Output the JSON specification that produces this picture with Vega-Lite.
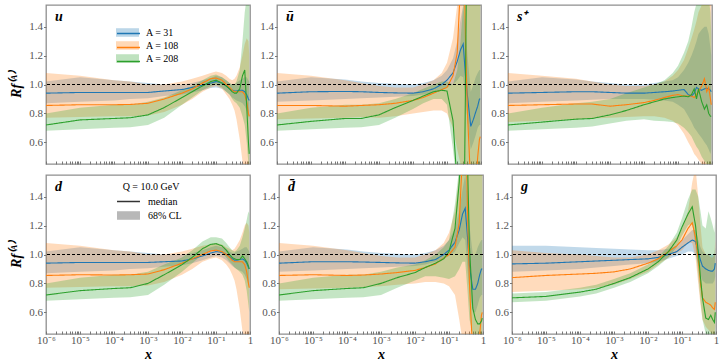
{
"$schema": "https://vega.github.io/schema/vega-lite/v6.json",
"background": "white",
"padding": {"left": 8, "top": 4, "right": 4, "bottom": 4},
"data": {"values": [
{"p":"u","A":"31","x":0.000001,"m":0.94,"l":0.87,"h":1.02},
{"p":"u","A":"31","x":0.00001,"m":0.945,"l":0.88,"h":1.05},
{"p":"u","A":"31","x":0.0001,"m":0.945,"l":0.89,"h":1.03},
{"p":"u","A":"31","x":0.0003,"m":0.945,"l":0.9,"h":1.02},
{"p":"u","A":"31","x":0.001,"m":0.945,"l":0.905,"h":1.01},
{"p":"u","A":"31","x":0.003,"m":0.955,"l":0.92,"h":1.0},
{"p":"u","A":"31","x":0.01,"m":0.965,"l":0.93,"h":1.0},
{"p":"u","A":"31","x":0.02,"m":0.98,"l":0.945,"h":1.01},
{"p":"u","A":"31","x":0.04,"m":0.995,"l":0.96,"h":1.03},
{"p":"u","A":"31","x":0.07,"m":1.01,"l":0.975,"h":1.045},
{"p":"u","A":"31","x":0.1,"m":1.02,"l":0.98,"h":1.06},
{"p":"u","A":"31","x":0.15,"m":1.01,"l":0.97,"h":1.05},
{"p":"u","A":"31","x":0.2,"m":0.99,"l":0.95,"h":1.03},
{"p":"u","A":"31","x":0.25,"m":0.97,"l":0.93,"h":1.01},
{"p":"u","A":"31","x":0.3,"m":0.96,"l":0.91,"h":1.0},
{"p":"u","A":"31","x":0.35,"m":0.955,"l":0.9,"h":1.0},
{"p":"u","A":"31","x":0.4,"m":0.955,"l":0.89,"h":1.01},
{"p":"u","A":"31","x":0.5,"m":0.96,"l":0.88,"h":1.03},
{"p":"u","A":"31","x":0.6,"m":0.96,"l":0.87,"h":1.04},
{"p":"u","A":"31","x":0.7,"m":0.95,"l":0.85,"h":1.05},
{"p":"u","A":"31","x":0.8,"m":0.93,"l":0.82,"h":1.05},
{"p":"u","A":"31","x":0.9,"m":0.9,"l":0.78,"h":1.03},
{"p":"u","A":"31","x":0.95,"m":0.89,"l":0.76,"h":1.02},
{"p":"u","A":"108","x":0.000001,"m":0.855,"l":0.77,"h":1.08},
{"p":"u","A":"108","x":0.00001,"m":0.86,"l":0.775,"h":1.06},
{"p":"u","A":"108","x":0.0001,"m":0.86,"l":0.78,"h":1.03},
{"p":"u","A":"108","x":0.0003,"m":0.862,"l":0.78,"h":1.02},
{"p":"u","A":"108","x":0.001,"m":0.87,"l":0.785,"h":1.0},
{"p":"u","A":"108","x":0.003,"m":0.9,"l":0.81,"h":1.0},
{"p":"u","A":"108","x":0.01,"m":0.94,"l":0.86,"h":1.02},
{"p":"u","A":"108","x":0.02,"m":0.97,"l":0.9,"h":1.04},
{"p":"u","A":"108","x":0.04,"m":1.01,"l":0.95,"h":1.06},
{"p":"u","A":"108","x":0.07,"m":1.04,"l":0.98,"h":1.08},
{"p":"u","A":"108","x":0.1,"m":1.045,"l":0.99,"h":1.09},
{"p":"u","A":"108","x":0.15,"m":1.03,"l":0.97,"h":1.08},
{"p":"u","A":"108","x":0.2,"m":1.0,"l":0.93,"h":1.06},
{"p":"u","A":"108","x":0.25,"m":0.98,"l":0.9,"h":1.04},
{"p":"u","A":"108","x":0.3,"m":0.96,"l":0.86,"h":1.03},
{"p":"u","A":"108","x":0.35,"m":0.95,"l":0.82,"h":1.04},
{"p":"u","A":"108","x":0.4,"m":0.95,"l":0.76,"h":1.06},
{"p":"u","A":"108","x":0.5,"m":0.95,"l":0.62,"h":1.12},
{"p":"u","A":"108","x":0.6,"m":0.95,"l":0.47,"h":1.2},
{"p":"u","A":"108","x":0.7,"m":0.93,"l":0.4,"h":1.28},
{"p":"u","A":"108","x":0.8,"m":0.88,"l":0.4,"h":1.32},
{"p":"u","A":"108","x":0.9,"m":0.8,"l":0.4,"h":1.3},
{"p":"u","A":"108","x":0.95,"m":0.78,"l":0.45,"h":1.2},
{"p":"u","A":"208","x":0.000001,"m":0.72,"l":0.68,"h":0.8},
{"p":"u","A":"208","x":0.00001,"m":0.755,"l":0.69,"h":0.84},
{"p":"u","A":"208","x":0.0001,"m":0.765,"l":0.7,"h":0.86},
{"p":"u","A":"208","x":0.0003,"m":0.77,"l":0.705,"h":0.86},
{"p":"u","A":"208","x":0.001,"m":0.79,"l":0.72,"h":0.88},
{"p":"u","A":"208","x":0.003,"m":0.84,"l":0.77,"h":0.91},
{"p":"u","A":"208","x":0.01,"m":0.91,"l":0.86,"h":0.96},
{"p":"u","A":"208","x":0.02,"m":0.95,"l":0.91,"h":0.99},
{"p":"u","A":"208","x":0.04,"m":0.99,"l":0.96,"h":1.03},
{"p":"u","A":"208","x":0.07,"m":1.02,"l":0.99,"h":1.06},
{"p":"u","A":"208","x":0.1,"m":1.03,"l":1.0,"h":1.07},
{"p":"u","A":"208","x":0.15,"m":1.01,"l":0.98,"h":1.05},
{"p":"u","A":"208","x":0.2,"m":0.99,"l":0.95,"h":1.03},
{"p":"u","A":"208","x":0.25,"m":0.97,"l":0.93,"h":1.01},
{"p":"u","A":"208","x":0.3,"m":0.95,"l":0.9,"h":1.0},
{"p":"u","A":"208","x":0.35,"m":0.94,"l":0.88,"h":1.0},
{"p":"u","A":"208","x":0.4,"m":0.94,"l":0.87,"h":1.02},
{"p":"u","A":"208","x":0.5,"m":0.97,"l":0.84,"h":1.1},
{"p":"u","A":"208","x":0.6,"m":1.06,"l":0.78,"h":1.3},
{"p":"u","A":"208","x":0.7,"m":1.1,"l":0.72,"h":1.5},
{"p":"u","A":"208","x":0.8,"m":0.85,"l":0.6,"h":1.6},
{"p":"u","A":"208","x":0.9,"m":0.6,"l":0.45,"h":1.6},
{"p":"u","A":"208","x":0.95,"m":0.52,"l":0.4,"h":1.6},
{"p":"d","A":"31","x":0.000001,"m":0.94,"l":0.87,"h":1.02},
{"p":"d","A":"31","x":0.00001,"m":0.945,"l":0.88,"h":1.05},
{"p":"d","A":"31","x":0.0001,"m":0.945,"l":0.89,"h":1.03},
{"p":"d","A":"31","x":0.0003,"m":0.945,"l":0.9,"h":1.02},
{"p":"d","A":"31","x":0.001,"m":0.945,"l":0.905,"h":1.01},
{"p":"d","A":"31","x":0.003,"m":0.95,"l":0.915,"h":1.0},
{"p":"d","A":"31","x":0.01,"m":0.955,"l":0.925,"h":1.0},
{"p":"d","A":"31","x":0.02,"m":0.97,"l":0.94,"h":1.01},
{"p":"d","A":"31","x":0.04,"m":0.99,"l":0.96,"h":1.03},
{"p":"d","A":"31","x":0.07,"m":1.01,"l":0.98,"h":1.05},
{"p":"d","A":"31","x":0.1,"m":1.02,"l":0.99,"h":1.06},
{"p":"d","A":"31","x":0.15,"m":1.015,"l":0.98,"h":1.05},
{"p":"d","A":"31","x":0.2,"m":1.0,"l":0.96,"h":1.04},
{"p":"d","A":"31","x":0.25,"m":0.985,"l":0.94,"h":1.02},
{"p":"d","A":"31","x":0.3,"m":0.97,"l":0.92,"h":1.01},
{"p":"d","A":"31","x":0.35,"m":0.96,"l":0.91,"h":1.01},
{"p":"d","A":"31","x":0.4,"m":0.96,"l":0.9,"h":1.02},
{"p":"d","A":"31","x":0.5,"m":0.965,"l":0.89,"h":1.03},
{"p":"d","A":"31","x":0.6,"m":0.97,"l":0.88,"h":1.04},
{"p":"d","A":"31","x":0.7,"m":0.96,"l":0.86,"h":1.05},
{"p":"d","A":"31","x":0.8,"m":0.94,"l":0.83,"h":1.05},
{"p":"d","A":"31","x":0.9,"m":0.91,"l":0.79,"h":1.03},
{"p":"d","A":"31","x":0.95,"m":0.9,"l":0.77,"h":1.02},
{"p":"d","A":"108","x":0.000001,"m":0.855,"l":0.77,"h":1.08},
{"p":"d","A":"108","x":0.00001,"m":0.86,"l":0.775,"h":1.06},
{"p":"d","A":"108","x":0.0001,"m":0.858,"l":0.78,"h":1.03},
{"p":"d","A":"108","x":0.0003,"m":0.86,"l":0.78,"h":1.02},
{"p":"d","A":"108","x":0.001,"m":0.865,"l":0.785,"h":1.0},
{"p":"d","A":"108","x":0.003,"m":0.895,"l":0.81,"h":1.0},
{"p":"d","A":"108","x":0.01,"m":0.94,"l":0.86,"h":1.02},
{"p":"d","A":"108","x":0.02,"m":0.97,"l":0.9,"h":1.04},
{"p":"d","A":"108","x":0.04,"m":1.0,"l":0.95,"h":1.06},
{"p":"d","A":"108","x":0.07,"m":1.025,"l":0.97,"h":1.07},
{"p":"d","A":"108","x":0.1,"m":1.03,"l":0.98,"h":1.08},
{"p":"d","A":"108","x":0.15,"m":1.02,"l":0.96,"h":1.07},
{"p":"d","A":"108","x":0.2,"m":1.0,"l":0.93,"h":1.05},
{"p":"d","A":"108","x":0.25,"m":0.98,"l":0.9,"h":1.04},
{"p":"d","A":"108","x":0.3,"m":0.96,"l":0.86,"h":1.03},
{"p":"d","A":"108","x":0.35,"m":0.95,"l":0.82,"h":1.04},
{"p":"d","A":"108","x":0.4,"m":0.95,"l":0.76,"h":1.06},
{"p":"d","A":"108","x":0.5,"m":0.95,"l":0.62,"h":1.1},
{"p":"d","A":"108","x":0.6,"m":0.95,"l":0.47,"h":1.15},
{"p":"d","A":"108","x":0.7,"m":0.93,"l":0.42,"h":1.2},
{"p":"d","A":"108","x":0.8,"m":0.88,"l":0.42,"h":1.22},
{"p":"d","A":"108","x":0.9,"m":0.8,"l":0.42,"h":1.2},
{"p":"d","A":"108","x":0.95,"m":0.77,"l":0.45,"h":1.15},
{"p":"d","A":"208","x":0.000001,"m":0.72,"l":0.68,"h":0.8},
{"p":"d","A":"208","x":0.00001,"m":0.75,"l":0.69,"h":0.84},
{"p":"d","A":"208","x":0.0001,"m":0.765,"l":0.7,"h":0.86},
{"p":"d","A":"208","x":0.0003,"m":0.77,"l":0.705,"h":0.86},
{"p":"d","A":"208","x":0.001,"m":0.8,"l":0.72,"h":0.88},
{"p":"d","A":"208","x":0.003,"m":0.86,"l":0.79,"h":0.93},
{"p":"d","A":"208","x":0.01,"m":0.93,"l":0.88,"h":0.98},
{"p":"d","A":"208","x":0.02,"m":0.98,"l":0.94,"h":1.03},
{"p":"d","A":"208","x":0.04,"m":1.04,"l":1.0,"h":1.09},
{"p":"d","A":"208","x":0.07,"m":1.07,"l":1.03,"h":1.12},
{"p":"d","A":"208","x":0.1,"m":1.075,"l":1.03,"h":1.12},
{"p":"d","A":"208","x":0.15,"m":1.06,"l":1.01,"h":1.11},
{"p":"d","A":"208","x":0.2,"m":1.03,"l":0.98,"h":1.08},
{"p":"d","A":"208","x":0.25,"m":1.0,"l":0.95,"h":1.05},
{"p":"d","A":"208","x":0.3,"m":0.98,"l":0.93,"h":1.03},
{"p":"d","A":"208","x":0.35,"m":0.97,"l":0.91,"h":1.02},
{"p":"d","A":"208","x":0.4,"m":0.965,"l":0.9,"h":1.03},
{"p":"d","A":"208","x":0.5,"m":0.965,"l":0.88,"h":1.06},
{"p":"d","A":"208","x":0.6,"m":0.99,"l":0.86,"h":1.12},
{"p":"d","A":"208","x":0.7,"m":0.97,"l":0.82,"h":1.18},
{"p":"d","A":"208","x":0.8,"m":0.95,"l":0.75,"h":1.24},
{"p":"d","A":"208","x":0.9,"m":0.92,"l":0.65,"h":1.3},
{"p":"d","A":"208","x":0.95,"m":0.9,"l":0.6,"h":1.28},
{"p":"ub","A":"31","x":0.000001,"m":0.94,"l":0.88,"h":1.02},
{"p":"ub","A":"31","x":0.00001,"m":0.95,"l":0.89,"h":1.05},
{"p":"ub","A":"31","x":0.0001,"m":0.952,"l":0.9,"h":1.035},
{"p":"ub","A":"31","x":0.0003,"m":0.95,"l":0.905,"h":1.02},
{"p":"ub","A":"31","x":0.001,"m":0.945,"l":0.91,"h":1.01},
{"p":"ub","A":"31","x":0.003,"m":0.942,"l":0.915,"h":1.005},
{"p":"ub","A":"31","x":0.01,"m":0.94,"l":0.92,"h":1.0},
{"p":"ub","A":"31","x":0.02,"m":0.95,"l":0.93,"h":1.01},
{"p":"ub","A":"31","x":0.04,"m":0.97,"l":0.94,"h":1.03},
{"p":"ub","A":"31","x":0.07,"m":1.0,"l":0.96,"h":1.06},
{"p":"ub","A":"31","x":0.1,"m":1.03,"l":0.98,"h":1.1},
{"p":"ub","A":"31","x":0.15,"m":1.08,"l":1.0,"h":1.18},
{"p":"ub","A":"31","x":0.2,"m":1.16,"l":1.03,"h":1.3},
{"p":"ub","A":"31","x":0.25,"m":1.24,"l":1.06,"h":1.45},
{"p":"ub","A":"31","x":0.3,"m":1.28,"l":1.05,"h":1.55},
{"p":"ub","A":"31","x":0.35,"m":1.06,"l":0.9,"h":1.4},
{"p":"ub","A":"31","x":0.4,"m":0.92,"l":0.75,"h":1.2},
{"p":"ub","A":"31","x":0.5,"m":0.71,"l":0.55,"h":0.95},
{"p":"ub","A":"31","x":0.6,"m":0.76,"l":0.6,"h":1.0},
{"p":"ub","A":"31","x":0.7,"m":0.81,"l":0.65,"h":1.05},
{"p":"ub","A":"31","x":0.8,"m":0.85,"l":0.7,"h":1.08},
{"p":"ub","A":"31","x":0.9,"m":0.9,"l":0.72,"h":1.1},
{"p":"ub","A":"31","x":0.95,"m":0.9,"l":0.72,"h":1.1},
{"p":"ub","A":"108","x":0.000001,"m":0.855,"l":0.76,"h":1.08},
{"p":"ub","A":"108","x":0.00001,"m":0.855,"l":0.765,"h":1.06},
{"p":"ub","A":"108","x":0.0001,"m":0.85,"l":0.77,"h":1.03},
{"p":"ub","A":"108","x":0.0003,"m":0.855,"l":0.775,"h":1.01},
{"p":"ub","A":"108","x":0.001,"m":0.86,"l":0.77,"h":0.99},
{"p":"ub","A":"108","x":0.003,"m":0.87,"l":0.78,"h":0.98},
{"p":"ub","A":"108","x":0.01,"m":0.89,"l":0.8,"h":0.98},
{"p":"ub","A":"108","x":0.02,"m":0.91,"l":0.81,"h":1.0},
{"p":"ub","A":"108","x":0.04,"m":0.94,"l":0.82,"h":1.03},
{"p":"ub","A":"108","x":0.07,"m":0.965,"l":0.82,"h":1.08},
{"p":"ub","A":"108","x":0.1,"m":0.98,"l":0.8,"h":1.15},
{"p":"ub","A":"108","x":0.15,"m":1.06,"l":0.7,"h":1.32},
{"p":"ub","A":"108","x":0.2,"m":1.22,"l":0.55,"h":1.55},
{"p":"ub","A":"108","x":0.25,"m":1.7,"l":0.45,"h":1.7},
{"p":"ub","A":"108","x":0.3,"m":2.2,"l":0.35,"h":1.8},
{"p":"ub","A":"108","x":0.35,"m":1.3,"l":0.3,"h":1.8},
{"p":"ub","A":"108","x":0.4,"m":0.8,"l":0.3,"h":1.8},
{"p":"ub","A":"108","x":0.5,"m":0.3,"l":0.3,"h":1.8},
{"p":"ub","A":"108","x":0.6,"m":0.2,"l":0.3,"h":1.8},
{"p":"ub","A":"108","x":0.7,"m":0.3,"l":0.3,"h":1.8},
{"p":"ub","A":"108","x":0.8,"m":0.5,"l":0.3,"h":1.8},
{"p":"ub","A":"108","x":0.9,"m":0.62,"l":0.3,"h":1.8},
{"p":"ub","A":"108","x":0.95,"m":0.64,"l":0.3,"h":1.8},
{"p":"ub","A":"208","x":0.000001,"m":0.72,"l":0.68,"h":0.8},
{"p":"ub","A":"208","x":0.00001,"m":0.745,"l":0.69,"h":0.84},
{"p":"ub","A":"208","x":0.0001,"m":0.765,"l":0.7,"h":0.86},
{"p":"ub","A":"208","x":0.0003,"m":0.765,"l":0.705,"h":0.86},
{"p":"ub","A":"208","x":0.001,"m":0.79,"l":0.72,"h":0.87},
{"p":"ub","A":"208","x":0.003,"m":0.84,"l":0.77,"h":0.9},
{"p":"ub","A":"208","x":0.01,"m":0.89,"l":0.83,"h":0.94},
{"p":"ub","A":"208","x":0.02,"m":0.92,"l":0.87,"h":0.97},
{"p":"ub","A":"208","x":0.04,"m":0.95,"l":0.9,"h":1.0},
{"p":"ub","A":"208","x":0.07,"m":0.96,"l":0.9,"h":1.02},
{"p":"ub","A":"208","x":0.1,"m":0.955,"l":0.86,"h":1.02},
{"p":"ub","A":"208","x":0.15,"m":0.75,"l":0.55,"h":1.0},
{"p":"ub","A":"208","x":0.2,"m":0.3,"l":0.3,"h":1.1},
{"p":"ub","A":"208","x":0.25,"m":-0.2,"l":0.3,"h":1.3},
{"p":"ub","A":"208","x":0.3,"m":-0.5,"l":0.3,"h":1.55},
{"p":"ub","A":"208","x":0.35,"m":1.0,"l":0.3,"h":1.7},
{"p":"ub","A":"208","x":0.4,"m":2.5,"l":0.3,"h":1.8},
{"p":"ub","A":"208","x":0.5,"m":2.5,"l":0.3,"h":1.8},
{"p":"ub","A":"208","x":0.6,"m":2.5,"l":0.3,"h":1.8},
{"p":"ub","A":"208","x":0.7,"m":2.5,"l":0.3,"h":1.8},
{"p":"ub","A":"208","x":0.8,"m":2.5,"l":0.3,"h":1.8},
{"p":"ub","A":"208","x":0.9,"m":2.5,"l":0.3,"h":1.8},
{"p":"ub","A":"208","x":0.95,"m":2.5,"l":0.3,"h":1.8},
{"p":"db","A":"31","x":0.000001,"m":0.94,"l":0.88,"h":1.02},
{"p":"db","A":"31","x":0.00001,"m":0.95,"l":0.89,"h":1.05},
{"p":"db","A":"31","x":0.0001,"m":0.95,"l":0.9,"h":1.035},
{"p":"db","A":"31","x":0.0003,"m":0.948,"l":0.905,"h":1.02},
{"p":"db","A":"31","x":0.001,"m":0.945,"l":0.91,"h":1.01},
{"p":"db","A":"31","x":0.003,"m":0.942,"l":0.915,"h":1.005},
{"p":"db","A":"31","x":0.01,"m":0.94,"l":0.92,"h":1.0},
{"p":"db","A":"31","x":0.02,"m":0.95,"l":0.93,"h":1.01},
{"p":"db","A":"31","x":0.04,"m":0.965,"l":0.95,"h":1.03},
{"p":"db","A":"31","x":0.07,"m":1.0,"l":0.97,"h":1.06},
{"p":"db","A":"31","x":0.1,"m":1.03,"l":0.99,"h":1.1},
{"p":"db","A":"31","x":0.15,"m":1.085,"l":1.02,"h":1.18},
{"p":"db","A":"31","x":0.2,"m":1.17,"l":1.08,"h":1.3},
{"p":"db","A":"31","x":0.25,"m":1.28,"l":1.12,"h":1.45},
{"p":"db","A":"31","x":0.3,"m":1.32,"l":1.1,"h":1.55},
{"p":"db","A":"31","x":0.35,"m":1.12,"l":0.9,"h":1.4},
{"p":"db","A":"31","x":0.4,"m":0.92,"l":0.75,"h":1.2},
{"p":"db","A":"31","x":0.5,"m":0.76,"l":0.6,"h":1.0},
{"p":"db","A":"31","x":0.6,"m":0.76,"l":0.6,"h":1.0},
{"p":"db","A":"31","x":0.7,"m":0.8,"l":0.65,"h":1.05},
{"p":"db","A":"31","x":0.8,"m":0.86,"l":0.7,"h":1.08},
{"p":"db","A":"31","x":0.9,"m":0.9,"l":0.72,"h":1.1},
{"p":"db","A":"31","x":0.95,"m":0.9,"l":0.72,"h":1.1},
{"p":"db","A":"108","x":0.000001,"m":0.855,"l":0.76,"h":1.08},
{"p":"db","A":"108","x":0.00001,"m":0.86,"l":0.765,"h":1.06},
{"p":"db","A":"108","x":0.0001,"m":0.855,"l":0.77,"h":1.03},
{"p":"db","A":"108","x":0.0003,"m":0.858,"l":0.775,"h":1.01},
{"p":"db","A":"108","x":0.001,"m":0.865,"l":0.78,"h":0.99},
{"p":"db","A":"108","x":0.003,"m":0.875,"l":0.79,"h":0.98},
{"p":"db","A":"108","x":0.01,"m":0.89,"l":0.8,"h":0.98},
{"p":"db","A":"108","x":0.02,"m":0.91,"l":0.81,"h":1.0},
{"p":"db","A":"108","x":0.04,"m":0.935,"l":0.81,"h":1.03},
{"p":"db","A":"108","x":0.07,"m":0.975,"l":0.8,"h":1.08},
{"p":"db","A":"108","x":0.1,"m":1.0,"l":0.78,"h":1.15},
{"p":"db","A":"108","x":0.15,"m":1.05,"l":0.72,"h":1.3},
{"p":"db","A":"108","x":0.2,"m":1.22,"l":0.55,"h":1.55},
{"p":"db","A":"108","x":0.25,"m":1.7,"l":0.4,"h":1.7},
{"p":"db","A":"108","x":0.3,"m":2.2,"l":0.35,"h":1.8},
{"p":"db","A":"108","x":0.35,"m":1.3,"l":0.3,"h":1.8},
{"p":"db","A":"108","x":0.4,"m":0.8,"l":0.3,"h":1.8},
{"p":"db","A":"108","x":0.5,"m":0.3,"l":0.3,"h":1.8},
{"p":"db","A":"108","x":0.6,"m":0.2,"l":0.3,"h":1.8},
{"p":"db","A":"108","x":0.7,"m":0.3,"l":0.3,"h":1.8},
{"p":"db","A":"108","x":0.8,"m":0.45,"l":0.3,"h":1.8},
{"p":"db","A":"108","x":0.9,"m":0.58,"l":0.3,"h":1.8},
{"p":"db","A":"108","x":0.95,"m":0.6,"l":0.3,"h":1.8},
{"p":"db","A":"208","x":0.000001,"m":0.72,"l":0.68,"h":0.8},
{"p":"db","A":"208","x":0.00001,"m":0.75,"l":0.69,"h":0.84},
{"p":"db","A":"208","x":0.0001,"m":0.765,"l":0.7,"h":0.86},
{"p":"db","A":"208","x":0.0003,"m":0.77,"l":0.705,"h":0.86},
{"p":"db","A":"208","x":0.001,"m":0.8,"l":0.72,"h":0.88},
{"p":"db","A":"208","x":0.003,"m":0.84,"l":0.77,"h":0.91},
{"p":"db","A":"208","x":0.01,"m":0.875,"l":0.82,"h":0.93},
{"p":"db","A":"208","x":0.02,"m":0.91,"l":0.85,"h":0.96},
{"p":"db","A":"208","x":0.04,"m":0.94,"l":0.85,"h":1.0},
{"p":"db","A":"208","x":0.07,"m":0.97,"l":0.84,"h":1.05},
{"p":"db","A":"208","x":0.1,"m":1.02,"l":0.83,"h":1.1},
{"p":"db","A":"208","x":0.15,"m":1.18,"l":0.85,"h":1.35},
{"p":"db","A":"208","x":0.2,"m":1.5,"l":0.9,"h":1.6},
{"p":"db","A":"208","x":0.25,"m":2.0,"l":0.95,"h":1.8},
{"p":"db","A":"208","x":0.3,"m":2.4,"l":0.95,"h":1.8},
{"p":"db","A":"208","x":0.35,"m":1.65,"l":0.75,"h":1.8},
{"p":"db","A":"208","x":0.4,"m":1.05,"l":0.55,"h":1.8},
{"p":"db","A":"208","x":0.5,"m":0.63,"l":0.45,"h":1.8},
{"p":"db","A":"208","x":0.6,"m":0.55,"l":0.4,"h":1.8},
{"p":"db","A":"208","x":0.7,"m":0.52,"l":0.4,"h":1.8},
{"p":"db","A":"208","x":0.8,"m":0.52,"l":0.4,"h":1.8},
{"p":"db","A":"208","x":0.9,"m":0.54,"l":0.4,"h":1.8},
{"p":"db","A":"208","x":0.95,"m":0.56,"l":0.4,"h":1.8},
{"p":"s","A":"31","x":0.000001,"m":0.94,"l":0.87,"h":1.02},
{"p":"s","A":"31","x":0.00001,"m":0.945,"l":0.88,"h":1.05},
{"p":"s","A":"31","x":0.0001,"m":0.95,"l":0.89,"h":1.035},
{"p":"s","A":"31","x":0.0003,"m":0.95,"l":0.895,"h":1.02},
{"p":"s","A":"31","x":0.001,"m":0.945,"l":0.9,"h":1.01},
{"p":"s","A":"31","x":0.003,"m":0.94,"l":0.9,"h":1.0},
{"p":"s","A":"31","x":0.01,"m":0.94,"l":0.9,"h":1.0},
{"p":"s","A":"31","x":0.02,"m":0.945,"l":0.895,"h":1.01},
{"p":"s","A":"31","x":0.04,"m":0.95,"l":0.89,"h":1.02},
{"p":"s","A":"31","x":0.07,"m":0.955,"l":0.88,"h":1.03},
{"p":"s","A":"31","x":0.1,"m":0.96,"l":0.86,"h":1.05},
{"p":"s","A":"31","x":0.15,"m":0.965,"l":0.83,"h":1.1},
{"p":"s","A":"31","x":0.2,"m":0.93,"l":0.78,"h":1.15},
{"p":"s","A":"31","x":0.25,"m":0.92,"l":0.74,"h":1.2},
{"p":"s","A":"31","x":0.3,"m":0.94,"l":0.7,"h":1.25},
{"p":"s","A":"31","x":0.35,"m":0.98,"l":0.68,"h":1.3},
{"p":"s","A":"31","x":0.4,"m":0.97,"l":0.66,"h":1.35},
{"p":"s","A":"31","x":0.5,"m":0.96,"l":0.63,"h":1.38},
{"p":"s","A":"31","x":0.6,"m":0.97,"l":0.6,"h":1.4},
{"p":"s","A":"31","x":0.7,"m":0.975,"l":0.58,"h":1.4},
{"p":"s","A":"31","x":0.8,"m":0.97,"l":0.55,"h":1.35},
{"p":"s","A":"31","x":0.9,"m":0.96,"l":0.52,"h":1.25},
{"p":"s","A":"31","x":0.95,"m":0.95,"l":0.55,"h":1.2},
{"p":"s","A":"108","x":0.000001,"m":0.855,"l":0.74,"h":1.08},
{"p":"s","A":"108","x":0.00001,"m":0.86,"l":0.75,"h":1.06},
{"p":"s","A":"108","x":0.0001,"m":0.865,"l":0.76,"h":1.04},
{"p":"s","A":"108","x":0.0003,"m":0.865,"l":0.765,"h":1.02},
{"p":"s","A":"108","x":0.001,"m":0.85,"l":0.77,"h":1.0},
{"p":"s","A":"108","x":0.003,"m":0.86,"l":0.775,"h":0.99},
{"p":"s","A":"108","x":0.01,"m":0.875,"l":0.78,"h":0.99},
{"p":"s","A":"108","x":0.02,"m":0.89,"l":0.78,"h":1.0},
{"p":"s","A":"108","x":0.04,"m":0.91,"l":0.77,"h":1.02},
{"p":"s","A":"108","x":0.07,"m":0.925,"l":0.75,"h":1.06},
{"p":"s","A":"108","x":0.1,"m":0.93,"l":0.72,"h":1.1},
{"p":"s","A":"108","x":0.15,"m":0.92,"l":0.66,"h":1.17},
{"p":"s","A":"108","x":0.2,"m":0.92,"l":0.6,"h":1.25},
{"p":"s","A":"108","x":0.25,"m":0.92,"l":0.56,"h":1.32},
{"p":"s","A":"108","x":0.3,"m":0.91,"l":0.52,"h":1.38},
{"p":"s","A":"108","x":0.35,"m":0.93,"l":0.5,"h":1.44},
{"p":"s","A":"108","x":0.4,"m":0.95,"l":0.48,"h":1.5},
{"p":"s","A":"108","x":0.5,"m":0.99,"l":0.45,"h":1.55},
{"p":"s","A":"108","x":0.6,"m":1.04,"l":0.42,"h":1.6},
{"p":"s","A":"108","x":0.7,"m":0.95,"l":0.4,"h":1.6},
{"p":"s","A":"108","x":0.8,"m":0.98,"l":0.4,"h":1.6},
{"p":"s","A":"108","x":0.9,"m":0.9,"l":0.4,"h":1.6},
{"p":"s","A":"108","x":0.95,"m":0.86,"l":0.4,"h":1.6},
{"p":"s","A":"208","x":0.000001,"m":0.72,"l":0.68,"h":0.8},
{"p":"s","A":"208","x":0.00001,"m":0.74,"l":0.69,"h":0.84},
{"p":"s","A":"208","x":0.0001,"m":0.76,"l":0.7,"h":0.87},
{"p":"s","A":"208","x":0.0003,"m":0.765,"l":0.71,"h":0.88},
{"p":"s","A":"208","x":0.001,"m":0.79,"l":0.73,"h":0.9},
{"p":"s","A":"208","x":0.003,"m":0.82,"l":0.75,"h":0.94},
{"p":"s","A":"208","x":0.01,"m":0.86,"l":0.76,"h":0.98},
{"p":"s","A":"208","x":0.02,"m":0.88,"l":0.75,"h":1.0},
{"p":"s","A":"208","x":0.04,"m":0.9,"l":0.745,"h":1.03},
{"p":"s","A":"208","x":0.07,"m":0.91,"l":0.74,"h":1.08},
{"p":"s","A":"208","x":0.1,"m":0.915,"l":0.73,"h":1.13},
{"p":"s","A":"208","x":0.15,"m":0.92,"l":0.7,"h":1.22},
{"p":"s","A":"208","x":0.2,"m":0.915,"l":0.67,"h":1.3},
{"p":"s","A":"208","x":0.25,"m":0.93,"l":0.64,"h":1.4},
{"p":"s","A":"208","x":0.3,"m":0.97,"l":0.6,"h":1.5},
{"p":"s","A":"208","x":0.35,"m":0.9,"l":0.57,"h":1.56},
{"p":"s","A":"208","x":0.4,"m":0.97,"l":0.55,"h":1.6},
{"p":"s","A":"208","x":0.5,"m":0.88,"l":0.5,"h":1.6},
{"p":"s","A":"208","x":0.6,"m":0.83,"l":0.47,"h":1.6},
{"p":"s","A":"208","x":0.7,"m":0.86,"l":0.45,"h":1.6},
{"p":"s","A":"208","x":0.8,"m":0.8,"l":0.42,"h":1.6},
{"p":"s","A":"208","x":0.9,"m":0.78,"l":0.42,"h":1.5},
{"p":"s","A":"208","x":0.95,"m":0.78,"l":0.45,"h":1.35},
{"p":"g","A":"31","x":0.000001,"m":0.935,"l":0.88,"h":1.06},
{"p":"g","A":"31","x":0.00001,"m":0.94,"l":0.89,"h":1.06},
{"p":"g","A":"31","x":0.0001,"m":0.95,"l":0.9,"h":1.05},
{"p":"g","A":"31","x":0.0003,"m":0.955,"l":0.91,"h":1.045},
{"p":"g","A":"31","x":0.001,"m":0.96,"l":0.92,"h":1.04},
{"p":"g","A":"31","x":0.003,"m":0.965,"l":0.93,"h":1.035},
{"p":"g","A":"31","x":0.01,"m":0.97,"l":0.94,"h":1.03},
{"p":"g","A":"31","x":0.02,"m":0.98,"l":0.95,"h":1.03},
{"p":"g","A":"31","x":0.04,"m":1.0,"l":0.97,"h":1.04},
{"p":"g","A":"31","x":0.07,"m":1.02,"l":0.99,"h":1.06},
{"p":"g","A":"31","x":0.1,"m":1.05,"l":1.0,"h":1.1},
{"p":"g","A":"31","x":0.15,"m":1.08,"l":1.02,"h":1.14},
{"p":"g","A":"31","x":0.2,"m":1.1,"l":1.02,"h":1.17},
{"p":"g","A":"31","x":0.25,"m":1.09,"l":1.0,"h":1.17},
{"p":"g","A":"31","x":0.3,"m":1.02,"l":0.93,"h":1.1},
{"p":"g","A":"31","x":0.35,"m":0.96,"l":0.86,"h":1.05},
{"p":"g","A":"31","x":0.4,"m":0.92,"l":0.82,"h":1.02},
{"p":"g","A":"31","x":0.5,"m":0.9,"l":0.8,"h":1.0},
{"p":"g","A":"31","x":0.6,"m":0.89,"l":0.8,"h":1.0},
{"p":"g","A":"31","x":0.7,"m":0.885,"l":0.8,"h":1.0},
{"p":"g","A":"31","x":0.8,"m":0.885,"l":0.8,"h":1.0},
{"p":"g","A":"31","x":0.9,"m":0.9,"l":0.82,"h":1.0},
{"p":"g","A":"31","x":0.95,"m":0.94,"l":0.85,"h":1.05},
{"p":"g","A":"108","x":0.000001,"m":0.84,"l":0.74,"h":1.03},
{"p":"g","A":"108","x":0.00001,"m":0.855,"l":0.75,"h":1.01},
{"p":"g","A":"108","x":0.0001,"m":0.865,"l":0.76,"h":1.0},
{"p":"g","A":"108","x":0.0003,"m":0.87,"l":0.77,"h":0.99},
{"p":"g","A":"108","x":0.001,"m":0.88,"l":0.79,"h":0.98},
{"p":"g","A":"108","x":0.003,"m":0.9,"l":0.83,"h":0.98},
{"p":"g","A":"108","x":0.01,"m":0.94,"l":0.88,"h":1.0},
{"p":"g","A":"108","x":0.02,"m":0.97,"l":0.93,"h":1.03},
{"p":"g","A":"108","x":0.04,"m":1.02,"l":0.98,"h":1.07},
{"p":"g","A":"108","x":0.07,"m":1.06,"l":1.01,"h":1.12},
{"p":"g","A":"108","x":0.1,"m":1.1,"l":1.03,"h":1.18},
{"p":"g","A":"108","x":0.15,"m":1.18,"l":1.08,"h":1.3},
{"p":"g","A":"108","x":0.2,"m":1.22,"l":1.08,"h":1.5},
{"p":"g","A":"108","x":0.25,"m":1.12,"l":0.98,"h":1.6},
{"p":"g","A":"108","x":0.3,"m":0.97,"l":0.8,"h":1.4},
{"p":"g","A":"108","x":0.35,"m":0.8,"l":0.65,"h":1.2},
{"p":"g","A":"108","x":0.4,"m":0.7,"l":0.55,"h":1.05},
{"p":"g","A":"108","x":0.5,"m":0.67,"l":0.5,"h":1.0},
{"p":"g","A":"108","x":0.6,"m":0.66,"l":0.48,"h":1.0},
{"p":"g","A":"108","x":0.7,"m":0.65,"l":0.46,"h":0.98},
{"p":"g","A":"108","x":0.8,"m":0.63,"l":0.45,"h":0.98},
{"p":"g","A":"108","x":0.9,"m":0.62,"l":0.45,"h":1.0},
{"p":"g","A":"108","x":0.95,"m":0.67,"l":0.5,"h":1.1},
{"p":"g","A":"208","x":0.000001,"m":0.7,"l":0.67,"h":0.73},
{"p":"g","A":"208","x":0.00001,"m":0.71,"l":0.68,"h":0.74},
{"p":"g","A":"208","x":0.0001,"m":0.74,"l":0.71,"h":0.77},
{"p":"g","A":"208","x":0.0003,"m":0.76,"l":0.73,"h":0.79},
{"p":"g","A":"208","x":0.001,"m":0.8,"l":0.77,"h":0.83},
{"p":"g","A":"208","x":0.003,"m":0.84,"l":0.81,"h":0.87},
{"p":"g","A":"208","x":0.01,"m":0.9,"l":0.87,"h":0.93},
{"p":"g","A":"208","x":0.02,"m":0.95,"l":0.92,"h":0.98},
{"p":"g","A":"208","x":0.04,"m":1.02,"l":0.98,"h":1.06},
{"p":"g","A":"208","x":0.07,"m":1.1,"l":1.05,"h":1.15},
{"p":"g","A":"208","x":0.1,"m":1.19,"l":1.13,"h":1.25},
{"p":"g","A":"208","x":0.15,"m":1.28,"l":1.2,"h":1.38},
{"p":"g","A":"208","x":0.2,"m":1.33,"l":1.22,"h":1.45},
{"p":"g","A":"208","x":0.25,"m":1.2,"l":1.05,"h":1.45},
{"p":"g","A":"208","x":0.3,"m":1.02,"l":0.85,"h":1.4},
{"p":"g","A":"208","x":0.35,"m":0.84,"l":0.68,"h":1.3},
{"p":"g","A":"208","x":0.4,"m":0.7,"l":0.55,"h":1.2},
{"p":"g","A":"208","x":0.5,"m":0.56,"l":0.45,"h":1.18},
{"p":"g","A":"208","x":0.6,"m":0.55,"l":0.45,"h":1.3},
{"p":"g","A":"208","x":0.7,"m":0.58,"l":0.45,"h":1.25},
{"p":"g","A":"208","x":0.8,"m":0.55,"l":0.45,"h":1.2},
{"p":"g","A":"208","x":0.9,"m":0.53,"l":0.45,"h":1.15},
{"p":"g","A":"208","x":0.95,"m":0.6,"l":0.45,"h":1.25}
]},
"resolve": {"legend": {"fill": "independent", "stroke": "independent", "strokeDash": "independent"}},
"spacing": 8,
"vconcat": [
{"hconcat": [
{"width": 204, "height": 159,
 "title": {"text": "u", "frame": "group", "anchor": "start", "offset": -19, "dx": 9, "fontSize": 14, "fontStyle": "italic", "fontWeight": "bold", "font": "Liberation Serif", "color": "black"},
 "transform": [{"filter": "datum.p === 'u'"}],
 "layer": [
  {"mark": {"type": "area", "clip": true, "opacity": 0.28},
   "encoding": {
    "x": {"field": "x", "type": "quantitative", "scale": {"type": "log", "domain": [0.000001, 1], "nice": false}, "axis": {"values": [0.000001,0.000002,0.000003,0.000004,0.000005,0.000006,0.000007,0.000008,0.000009,0.00001,0.00002,0.00003,0.00004,0.00005,0.00006,0.00007,0.00008,0.00009,0.0001,0.0002,0.0003,0.0004,0.0005,0.0006,0.0007,0.0008,0.0009,0.001,0.002,0.003,0.004,0.005,0.006,0.007,0.008,0.009,0.01,0.02,0.03,0.04,0.05,0.06,0.07,0.08,0.09,0.1,0.2,0.3,0.4,0.5,0.6,0.7,0.8,0.9,1], "tickCount": 100, "labels": false, "title": null, "tickSize": -3}},
    "y": {"field": "l", "type": "quantitative", "scale": {"domain": [0.45, 1.55], "nice": false}, "axis": {"values": [0.6,0.8,1.0,1.2,1.4], "tickCount": 10, "format": ".1f", "labelOverlap": false, "tickSize": 2.5, "labelPadding": 1, "minExtent": 18, "maxExtent": 18, "titlePadding": 5, "title": "Rf⁽ᴬ⁾"}},
    "y2": {"field": "h"},
    "fill": {"field": "A", "type": "nominal", "scale": {"domain": ["31","108","208"], "range": ["#1f77b4","#ff7f0e","#2ca02c"]}, "legend": {"orient": "none", "legendX": 74, "legendY": 20, "title": null, "symbolType": "M-1.53,-0.57H1.53V0.57H-1.53Z", "symbolSize": 225, "symbolOpacity": 0.3, "symbolStrokeWidth": 0, "labelOffset": 11, "rowPadding": 0, "labelExpr": "'A = ' + datum.label"}}
   }},
  {"mark": {"type": "line", "clip": true, "strokeWidth": 1.1},
   "encoding": {
    "x": {"field": "x", "type": "quantitative"},
    "y": {"field": "m", "type": "quantitative", "title": "Rf⁽ᴬ⁾"},
    "stroke": {"field": "A", "type": "nominal", "sort": ["31","108","208"], "scale": {"range": ["#1f77b4","#ff7f0e","#2ca02c"]}, "legend": {"orient": "none", "legendX": 74, "legendY": 20, "title": null, "symbolType": "M-1.53,0H1.53", "symbolSize": 225, "symbolStrokeWidth": 1.5, "labelOffset": 11, "rowPadding": 0, "labelExpr": "''"}},
    "strokeDash": {"datum": "median", "scale": {"domain": ["median","68% CL"], "range": [[1,0],[1,0]]}, "legend": null}
   }},
  {"mark": {"type": "rule", "color": "black", "strokeDash": [3, 2], "strokeWidth": 1.1}, "encoding": {"y": {"datum": 1}}}
 ]},
{"width": 204, "height": 159,
 "title": {"text": "ū", "frame": "group", "anchor": "start", "offset": -19, "dx": 9, "fontSize": 14, "fontStyle": "italic", "fontWeight": "bold", "font": "Liberation Serif", "color": "black"},
 "transform": [{"filter": "datum.p === 'ub'"}],
 "layer": [
  {"mark": {"type": "area", "clip": true, "opacity": 0.28},
   "encoding": {
    "x": {"field": "x", "type": "quantitative", "scale": {"type": "log", "domain": [0.000001, 1], "nice": false}, "axis": {"values": [0.000001,0.000002,0.000003,0.000004,0.000005,0.000006,0.000007,0.000008,0.000009,0.00001,0.00002,0.00003,0.00004,0.00005,0.00006,0.00007,0.00008,0.00009,0.0001,0.0002,0.0003,0.0004,0.0005,0.0006,0.0007,0.0008,0.0009,0.001,0.002,0.003,0.004,0.005,0.006,0.007,0.008,0.009,0.01,0.02,0.03,0.04,0.05,0.06,0.07,0.08,0.09,0.1,0.2,0.3,0.4,0.5,0.6,0.7,0.8,0.9,1], "tickCount": 100, "labels": false, "title": null, "tickSize": -3}},
    "y": {"field": "l", "type": "quantitative", "scale": {"domain": [0.45, 1.55], "nice": false}, "axis": {"values": [0.6,0.8,1.0,1.2,1.4], "tickCount": 10, "format": ".1f", "labelOverlap": false, "tickSize": 2.5, "labelPadding": 1, "minExtent": 18, "maxExtent": 18, "title": null}},
    "y2": {"field": "h"},
    "fill": {"field": "A", "type": "nominal", "scale": {"domain": ["31","108","208"], "range": ["#1f77b4","#ff7f0e","#2ca02c"]}, "legend": null}
   }},
  {"mark": {"type": "line", "clip": true, "strokeWidth": 1.1},
   "encoding": {
    "x": {"field": "x", "type": "quantitative"},
    "y": {"field": "m", "type": "quantitative", "title": null},
    "stroke": {"field": "A", "type": "nominal", "sort": ["31","108","208"], "scale": {"range": ["#1f77b4","#ff7f0e","#2ca02c"]}, "legend": null},
    "strokeDash": {"datum": "median", "scale": {"domain": ["median","68% CL"], "range": [[1,0],[1,0]]}, "legend": null}
   }},
  {"mark": {"type": "rule", "color": "black", "strokeDash": [3, 2], "strokeWidth": 1.1}, "encoding": {"y": {"datum": 1}}}
 ]},
{"width": 204, "height": 159,
 "title": {"text": "s⁺", "frame": "group", "anchor": "start", "offset": -19, "dx": 9, "fontSize": 14, "fontStyle": "italic", "fontWeight": "bold", "font": "Liberation Serif", "color": "black"},
 "transform": [{"filter": "datum.p === 's'"}],
 "layer": [
  {"mark": {"type": "area", "clip": true, "opacity": 0.28},
   "encoding": {
    "x": {"field": "x", "type": "quantitative", "scale": {"type": "log", "domain": [0.000001, 1], "nice": false}, "axis": {"values": [0.000001,0.000002,0.000003,0.000004,0.000005,0.000006,0.000007,0.000008,0.000009,0.00001,0.00002,0.00003,0.00004,0.00005,0.00006,0.00007,0.00008,0.00009,0.0001,0.0002,0.0003,0.0004,0.0005,0.0006,0.0007,0.0008,0.0009,0.001,0.002,0.003,0.004,0.005,0.006,0.007,0.008,0.009,0.01,0.02,0.03,0.04,0.05,0.06,0.07,0.08,0.09,0.1,0.2,0.3,0.4,0.5,0.6,0.7,0.8,0.9,1], "tickCount": 100, "labels": false, "title": null, "tickSize": -3}},
    "y": {"field": "l", "type": "quantitative", "scale": {"domain": [0.45, 1.55], "nice": false}, "axis": {"values": [0.6,0.8,1.0,1.2,1.4], "tickCount": 10, "format": ".1f", "labelOverlap": false, "tickSize": 2.5, "labelPadding": 1, "minExtent": 18, "maxExtent": 18, "title": null}},
    "y2": {"field": "h"},
    "fill": {"field": "A", "type": "nominal", "scale": {"domain": ["31","108","208"], "range": ["#1f77b4","#ff7f0e","#2ca02c"]}, "legend": null}
   }},
  {"mark": {"type": "line", "clip": true, "strokeWidth": 1.1},
   "encoding": {
    "x": {"field": "x", "type": "quantitative"},
    "y": {"field": "m", "type": "quantitative", "title": null},
    "stroke": {"field": "A", "type": "nominal", "sort": ["31","108","208"], "scale": {"range": ["#1f77b4","#ff7f0e","#2ca02c"]}, "legend": null},
    "strokeDash": {"datum": "median", "scale": {"domain": ["median","68% CL"], "range": [[1,0],[1,0]]}, "legend": null}
   }},
  {"mark": {"type": "rule", "color": "black", "strokeDash": [3, 2], "strokeWidth": 1.1}, "encoding": {"y": {"datum": 1}}}
 ]}
], "spacing": 6, "resolve": {"legend": {"fill": "independent", "stroke": "independent", "strokeDash": "independent"}}},
{"hconcat": [
{"width": 204, "height": 159,
 "title": {"text": "d", "frame": "group", "anchor": "start", "offset": -19, "dx": 9, "fontSize": 14, "fontStyle": "italic", "fontWeight": "bold", "font": "Liberation Serif", "color": "black"},
 "transform": [{"filter": "datum.p === 'd'"}],
 "layer": [
  {"mark": {"type": "area", "clip": true, "opacity": 0.28},
   "encoding": {
    "x": {"field": "x", "type": "quantitative", "scale": {"type": "log", "domain": [0.000001, 1], "nice": false}, "axis": {"values": [0.000001,0.000002,0.000003,0.000004,0.000005,0.000006,0.000007,0.000008,0.000009,0.00001,0.00002,0.00003,0.00004,0.00005,0.00006,0.00007,0.00008,0.00009,0.0001,0.0002,0.0003,0.0004,0.0005,0.0006,0.0007,0.0008,0.0009,0.001,0.002,0.003,0.004,0.005,0.006,0.007,0.008,0.009,0.01,0.02,0.03,0.04,0.05,0.06,0.07,0.08,0.09,0.1,0.2,0.3,0.4,0.5,0.6,0.7,0.8,0.9,1], "tickCount": 100, "labelExpr": "['10⁻⁶','10⁻⁵','10⁻⁴','10⁻³','10⁻²','10⁻¹','1'][indexof([0.000001,0.00001,0.0001,0.001,0.01,0.1,1], datum.value)] || ''", "labelFlush": false, "labelOverlap": false, "labelPadding": 3, "title": "x", "titlePadding": 2, "tickSize": -3}},
    "y": {"field": "l", "type": "quantitative", "scale": {"domain": [0.45, 1.55], "nice": false}, "axis": {"values": [0.6,0.8,1.0,1.2,1.4], "tickCount": 10, "format": ".1f", "labelOverlap": false, "tickSize": 2.5, "labelPadding": 1, "minExtent": 18, "maxExtent": 18, "titlePadding": 5, "title": "Rf⁽ᴬ⁾"}},
    "y2": {"field": "h"},
    "fill": {"field": "A", "type": "nominal", "scale": {"domain": ["31","108","208"], "range": ["#1f77b4","#ff7f0e","#2ca02c"]}, "legend": null}
   }},
  {"mark": {"type": "line", "clip": true, "strokeWidth": 1.1},
   "encoding": {
    "x": {"field": "x", "type": "quantitative"},
    "y": {"field": "m", "type": "quantitative", "title": "Rf⁽ᴬ⁾"},
    "stroke": {"field": "A", "type": "nominal", "sort": ["31","108","208"], "scale": {"range": ["#1f77b4","#ff7f0e","#2ca02c"]}, "legend": null},
    "strokeDash": {"datum": "median", "scale": {"domain": ["median","68% CL"], "range": [[1,0],[1,0]]}, "legend": {"orient": "none", "legendX": 74, "legendY": 7, "title": "Q = 10.0 GeV", "titleAnchor": "middle", "titlePadding": 1, "symbolSize": 225, "labelOffset": 11, "rowPadding": 0, "encode": {"symbols": {"update": {"shape": {"signal": "datum.value === 'median' ? 'M-1.53,0H1.53' : 'M-1.53,-0.57H1.53V0.57H-1.53Z'"}, "fill": {"signal": "datum.value === 'median' ? 'transparent' : '#b8b8b8'"}, "stroke": {"signal": "datum.value === 'median' ? '#333333' : 'transparent'"}, "strokeWidth": {"value": 1.4}, "opacity": {"value": 1}}}}}}
   }},
  {"mark": {"type": "rule", "color": "black", "strokeDash": [3, 2], "strokeWidth": 1.1}, "encoding": {"y": {"datum": 1}}}
 ]},
{"width": 204, "height": 159,
 "title": {"text": "d̄", "frame": "group", "anchor": "start", "offset": -19, "dx": 9, "fontSize": 14, "fontStyle": "italic", "fontWeight": "bold", "font": "Liberation Serif", "color": "black"},
 "transform": [{"filter": "datum.p === 'db'"}],
 "layer": [
  {"mark": {"type": "area", "clip": true, "opacity": 0.28},
   "encoding": {
    "x": {"field": "x", "type": "quantitative", "scale": {"type": "log", "domain": [0.000001, 1], "nice": false}, "axis": {"values": [0.000001,0.000002,0.000003,0.000004,0.000005,0.000006,0.000007,0.000008,0.000009,0.00001,0.00002,0.00003,0.00004,0.00005,0.00006,0.00007,0.00008,0.00009,0.0001,0.0002,0.0003,0.0004,0.0005,0.0006,0.0007,0.0008,0.0009,0.001,0.002,0.003,0.004,0.005,0.006,0.007,0.008,0.009,0.01,0.02,0.03,0.04,0.05,0.06,0.07,0.08,0.09,0.1,0.2,0.3,0.4,0.5,0.6,0.7,0.8,0.9,1], "tickCount": 100, "labelExpr": "['10⁻⁶','10⁻⁵','10⁻⁴','10⁻³','10⁻²','10⁻¹','1'][indexof([0.000001,0.00001,0.0001,0.001,0.01,0.1,1], datum.value)] || ''", "labelFlush": false, "labelOverlap": false, "labelPadding": 3, "title": "x", "titlePadding": 2, "tickSize": -3}},
    "y": {"field": "l", "type": "quantitative", "scale": {"domain": [0.45, 1.55], "nice": false}, "axis": {"values": [0.6,0.8,1.0,1.2,1.4], "tickCount": 10, "format": ".1f", "labelOverlap": false, "tickSize": 2.5, "labelPadding": 1, "minExtent": 18, "maxExtent": 18, "title": null}},
    "y2": {"field": "h"},
    "fill": {"field": "A", "type": "nominal", "scale": {"domain": ["31","108","208"], "range": ["#1f77b4","#ff7f0e","#2ca02c"]}, "legend": null}
   }},
  {"mark": {"type": "line", "clip": true, "strokeWidth": 1.1},
   "encoding": {
    "x": {"field": "x", "type": "quantitative"},
    "y": {"field": "m", "type": "quantitative", "title": null},
    "stroke": {"field": "A", "type": "nominal", "sort": ["31","108","208"], "scale": {"range": ["#1f77b4","#ff7f0e","#2ca02c"]}, "legend": null},
    "strokeDash": {"datum": "median", "scale": {"domain": ["median","68% CL"], "range": [[1,0],[1,0]]}, "legend": null}
   }},
  {"mark": {"type": "rule", "color": "black", "strokeDash": [3, 2], "strokeWidth": 1.1}, "encoding": {"y": {"datum": 1}}}
 ]},
{"width": 204, "height": 159,
 "title": {"text": "g", "frame": "group", "anchor": "start", "offset": -19, "dx": 9, "fontSize": 14, "fontStyle": "italic", "fontWeight": "bold", "font": "Liberation Serif", "color": "black"},
 "transform": [{"filter": "datum.p === 'g'"}],
 "layer": [
  {"mark": {"type": "area", "clip": true, "opacity": 0.28},
   "encoding": {
    "x": {"field": "x", "type": "quantitative", "scale": {"type": "log", "domain": [0.000001, 1], "nice": false}, "axis": {"values": [0.000001,0.000002,0.000003,0.000004,0.000005,0.000006,0.000007,0.000008,0.000009,0.00001,0.00002,0.00003,0.00004,0.00005,0.00006,0.00007,0.00008,0.00009,0.0001,0.0002,0.0003,0.0004,0.0005,0.0006,0.0007,0.0008,0.0009,0.001,0.002,0.003,0.004,0.005,0.006,0.007,0.008,0.009,0.01,0.02,0.03,0.04,0.05,0.06,0.07,0.08,0.09,0.1,0.2,0.3,0.4,0.5,0.6,0.7,0.8,0.9,1], "tickCount": 100, "labelExpr": "['10⁻⁶','10⁻⁵','10⁻⁴','10⁻³','10⁻²','10⁻¹','1'][indexof([0.000001,0.00001,0.0001,0.001,0.01,0.1,1], datum.value)] || ''", "labelFlush": false, "labelOverlap": false, "labelPadding": 3, "title": "x", "titlePadding": 2, "tickSize": -3}},
    "y": {"field": "l", "type": "quantitative", "scale": {"domain": [0.45, 1.55], "nice": false}, "axis": {"values": [0.6,0.8,1.0,1.2,1.4], "tickCount": 10, "format": ".1f", "labelOverlap": false, "tickSize": 2.5, "labelPadding": 1, "minExtent": 18, "maxExtent": 18, "title": null}},
    "y2": {"field": "h"},
    "fill": {"field": "A", "type": "nominal", "scale": {"domain": ["31","108","208"], "range": ["#1f77b4","#ff7f0e","#2ca02c"]}, "legend": null}
   }},
  {"mark": {"type": "line", "clip": true, "strokeWidth": 1.1},
   "encoding": {
    "x": {"field": "x", "type": "quantitative"},
    "y": {"field": "m", "type": "quantitative", "title": null},
    "stroke": {"field": "A", "type": "nominal", "sort": ["31","108","208"], "scale": {"range": ["#1f77b4","#ff7f0e","#2ca02c"]}, "legend": null},
    "strokeDash": {"datum": "median", "scale": {"domain": ["median","68% CL"], "range": [[1,0],[1,0]]}, "legend": null}
   }},
  {"mark": {"type": "rule", "color": "black", "strokeDash": [3, 2], "strokeWidth": 1.1}, "encoding": {"y": {"datum": 1}}}
 ]}
], "spacing": 6, "resolve": {"legend": {"fill": "independent", "stroke": "independent", "strokeDash": "independent"}}}
],
"config": {
 "font": "Liberation Serif",
 "view": {"stroke": "#8f8f8f", "strokeWidth": 1.3},
 "axis": {"labelFont": "Liberation Serif", "labelFontSize": 11, "labelColor": "#555555", "labelOverlap": false, "labelBound": false, "tickColor": "#777777", "tickWidth": 1, "domain": false, "grid": false, "titleFont": "Liberation Serif", "titleFontSize": 14, "titleFontWeight": "bold", "titleFontStyle": "italic", "titleColor": "black"},
 "legend": {"labelFont": "Liberation Serif", "labelFontSize": 10, "labelColor": "black", "titleFont": "Liberation Serif", "titleFontSize": 10, "titleFontWeight": "normal", "titleColor": "black", "padding": 0}
}
}
